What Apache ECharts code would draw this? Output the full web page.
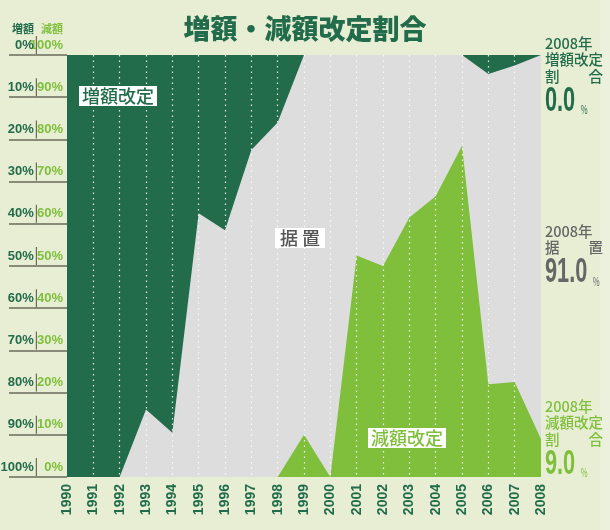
<!DOCTYPE html>
<html>
<head>
<meta charset="utf-8">
<script src="https://cdn.jsdelivr.net/npm/echarts@6/dist/echarts.min.js"></script>
<style>
  html, body { margin: 0; padding: 0; background: #e7eed4; }
  #main { width: 610px; height: 530px; }
</style>
</head>
<body>
<div id="main"></div>
<script>
// 年
var years = ['1990', '1991', '1992', '1993', '1994', '1995', '1996', '1997', '1998', '1999',
  '2000', '2001', '2002', '2003', '2004', '2005', '2006', '2007', '2008'];
// 増額改定割合 (%)  上から
var zougaku = [100, 100, 100, 84, 89.5, 37.5, 41.5, 22.5, 16, 0, 0, 0, 0, 0, 0, 0, 4.5, 2.5, 0];
// 減額改定割合 (%)  下から
var gengaku = [0, 0, 0, 0, 0, 0, 0, 0, 0, 10, 0, 52.5, 50, 61.5, 66.5, 78.5, 22, 22.5, 9];

var DARK = '#236c4b';
var LIGHT = '#80bf3c';
var GRAY = '#dddddd';
var TEXTGRAY = '#666666';
var NUMFONT = "'Liberation Sans',Arial,sans-serif";
var JPFONT = "'Noto Sans CJK JP',sans-serif";

var lastZou = zougaku[zougaku.length - 1];
var lastGen = gengaku[gengaku.length - 1];
var lastSue = 100 - lastZou - lastGen;

// 右側の2008年の値
function sideBlock(top, color, lines, value) {
  var txt = lines.map(function (l) { return '{t|' + l + '}'; }).join('\n');
  return [
    {
      type: 'text',
      left: 545,
      top: top,
      style: {
        text: txt,
        rich: {
          t: { fontFamily: JPFONT, fontSize: 14.5, fontWeight: 500, fill: color, lineHeight: 16.5 }
        }
      }
    },
    {
      // 数字は縦長に
      type: 'text',
      x: 545,
      y: top + lines.length * 16.5 - 2,
      scaleX: 0.62,
      style: {
        text: '{n|' + value.toFixed(1) + '}{p|%}',
        rich: {
          n: { fontFamily: NUMFONT, fontSize: 35, fontWeight: 'bold', fill: color, lineHeight: 35 },
          p: { fontFamily: JPFONT, fontSize: 12, fill: color, verticalAlign: 'bottom', padding: [0, 0, 3, 9] }
        }
      }
    }
  ];
}

var myChart = echarts.init(document.getElementById('main'));

var option = {
  backgroundColor: '#e7eed4',
  animation: false,
  title: {
    text: '増額・減額改定割合',
    left: 'center',
    top: 10,
    textStyle: { fontFamily: JPFONT, fontSize: 27, fontWeight: 900, color: DARK }
  },
  grid: {
    left: 67, right: 69, top: 55, bottom: 53,
    outerBoundsMode: 'none',
    containLabel: false,
    show: true, backgroundColor: GRAY, borderWidth: 0
  },
  xAxis: {
    type: 'category',
    data: years,
    boundaryGap: false,
    z: 10,
    axisLine: { show: false },
    axisTick: { show: false },
    axisLabel: {
      rotate: 90,
      margin: 7,
      color: DARK,
      fontFamily: NUMFONT,
      fontWeight: 'bold',
      fontSize: 14
    },
    splitLine: {
      show: true,
      showMinLine: false,
      showMaxLine: false,
      lineStyle: { color: 'rgba(255,255,255,0.85)', type: [1.5, 4], width: 1.2 }
    }
  },
  yAxis: [
    {
      // 増額 : 上が0%
      type: 'value',
      inverse: true,
      min: 0, max: 100, interval: 10,
      position: 'left',
      axisLine: { show: false },
      splitLine: { show: false },
      axisTick: { show: true, inside: false, length: 58, lineStyle: { color: '#6b6b5a', width: 1.5 } },
      axisLabel: {
        margin: 4,
        verticalAlign: 'bottom',
        padding: [0, 0, 1, 0],
        formatter: function (v) {
          return '{a|' + v + '%}{s|}{b|' + (100 - v) + '%}';
        },
        rich: {
          a: { color: DARK, fontFamily: NUMFONT, fontWeight: 'bold', fontSize: 13, width: 27, align: 'right', padding: [0, 2, 0, 0] },
          s: { width: 1.2, height: 18, backgroundColor: '#6b6b5a' },
          b: { color: LIGHT, fontFamily: NUMFONT, fontWeight: 'bold', fontSize: 13, width: 26, align: 'right' }
        }
      }
    },
    {
      // 減額 : 下が0%
      type: 'value',
      min: 0, max: 100, interval: 10,
      show: false
    }
  ],
  graphic: [
    { type: 'rect', shape: { x: 600, y: 0, width: 10, height: 530 }, style: { fill: '#ecf1de' }, z: -1 },
    { type: 'text', left: 12, top: 23, style: { text: '増額', fontFamily: JPFONT, fontSize: 11, fontWeight: 'bold', fill: DARK } },
    { type: 'text', left: 41, top: 23, style: { text: '減額', fontFamily: JPFONT, fontSize: 11, fontWeight: 'bold', fill: LIGHT } },
    {
      type: 'text', left: 79, top: 86, z: 20,
      style: { text: '増額改定', fontFamily: JPFONT, fontSize: 18, fontWeight: 500, fill: DARK,
        backgroundColor: '#fff', padding: [1, 3, 1, 3] }
    },
    {
      type: 'text', left: 275, top: 228, z: 20,
      style: { text: '据 置', fontFamily: JPFONT, fontSize: 18, fontWeight: 500, fill: '#555',
        backgroundColor: '#fff', padding: [1, 5, 1, 5] }
    },
    {
      type: 'text', left: 368, top: 428, z: 20,
      style: { text: '減額改定', fontFamily: JPFONT, fontSize: 18, fontWeight: 500, fill: LIGHT,
        backgroundColor: '#fff', padding: [1, 3, 1, 3] }
    }
  ].concat(
    sideBlock(36, DARK, ['2008年', '増額改定', '割　　合'], lastZou),
    sideBlock(224, TEXTGRAY, ['2008年', '据　　置'], lastSue),
    sideBlock(399, LIGHT, ['2008年', '減額改定', '割　　合'], lastGen)
  ),
  series: [
    {
      name: '増額改定',
      type: 'line',
      yAxisIndex: 0,
      data: zougaku,
      symbol: 'none',
      lineStyle: { width: 0 },
      areaStyle: { color: DARK, opacity: 1, origin: 'start' }
    },
    {
      name: '減額改定',
      type: 'line',
      yAxisIndex: 1,
      data: gengaku,
      symbol: 'none',
      lineStyle: { width: 0 },
      areaStyle: { color: LIGHT, opacity: 1, origin: 'start' }
    }
  ]
};

myChart.setOption(option);
</script>
</body>
</html>
